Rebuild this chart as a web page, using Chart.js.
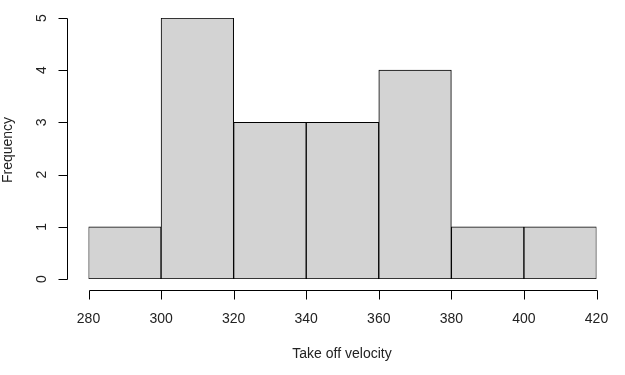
<!DOCTYPE html>
<html>
<head>
<meta charset="utf-8">
<script src="https://cdn.jsdelivr.net/npm/chart.js@4"></script>
<style>
  body { margin: 0; background: #fff; }
  #wrap { width: 625px; height: 375px; }
</style>
</head>
<body>
<div id="wrap"><canvas id="canvasHist" width="625" height="375"></canvas></div>
<script>
// histogram bins (breaks) and counts
let breaks = [280, 300, 320, 340, 360, 380, 400, 420];
let counts = [1, 5, 3, 3, 4, 1, 1];
let xTicks = [280, 300, 320, 340, 360, 380, 400, 420];
let yTicks = [0, 1, 2, 3, 4, 5];
let xTitle = 'Take off velocity';
let yTitle = 'Frequency';

let barData = counts.map(function (c, i) {
    return { x: (breaks[i] + breaks[i + 1]) / 2, y: c };
});

// R style axes, detached from the plot area
let rAxes = {
    id: 'rAxes',
    afterDraw: function (chart) {
        let ctx = chart.ctx;
        let xs = chart.scales.x;
        let ys = chart.scales.y;
        ctx.save();
        ctx.strokeStyle = '#000';
        ctx.fillStyle = '#222';
        ctx.lineWidth = 1;
        ctx.font = '14px "Liberation Sans", Arial, sans-serif';

        // y axis
        let ax = 67.5;
        ctx.beginPath();
        ctx.moveTo(ax, Math.round(ys.getPixelForValue(yTicks[0])) + 0.5);
        ctx.lineTo(ax, Math.round(ys.getPixelForValue(yTicks[yTicks.length - 1])) + 0.5);
        yTicks.forEach(function (t) {
            let py = Math.round(ys.getPixelForValue(t)) + 0.5;
            ctx.moveTo(ax, py);
            ctx.lineTo(ax - 9, py);
        });
        ctx.stroke();
        ctx.textAlign = 'center';
        ctx.textBaseline = 'middle';
        yTicks.forEach(function (t) {
            let py = ys.getPixelForValue(t);
            ctx.save();
            ctx.translate(42, py);
            ctx.rotate(-Math.PI / 2);
            ctx.fillText(String(t), 0, 0);
            ctx.restore();
        });

        // x axis
        let ay = 290.5;
        ctx.beginPath();
        ctx.moveTo(Math.round(xs.getPixelForValue(xTicks[0])) + 0.5, ay);
        ctx.lineTo(Math.round(xs.getPixelForValue(xTicks[xTicks.length - 1])) + 0.5, ay);
        xTicks.forEach(function (t) {
            let px = Math.round(xs.getPixelForValue(t)) + 0.5;
            ctx.moveTo(px, ay);
            ctx.lineTo(px, ay + 9);
        });
        ctx.stroke();
        xTicks.forEach(function (t) {
            ctx.fillText(String(t), xs.getPixelForValue(t), 319);
        });

        // titles
        ctx.fillText(xTitle, 342, 354);
        ctx.save();
        ctx.translate(8, 150);
        ctx.rotate(-Math.PI / 2);
        ctx.fillText(yTitle, 0, 0);
        ctx.restore();
        ctx.restore();
    }
};

let grafHist = document.getElementById('canvasHist').getContext('2d');
let chartHist = new Chart(grafHist, {
    type: 'bar',
    data: {
        datasets: [
            {
                label: yTitle,
                data: barData,
                backgroundColor: '#d3d3d3',
                borderColor: '#000',
                borderWidth: 1,
                barPercentage: 1,
                categoryPercentage: 1,
                borderSkipped: false
            }
        ]
    },
    options: {
        responsive: false,
        animation: false,
        layout: { padding: { left: 88.5, right: 28.5, top: 18, bottom: 96 } },
        plugins: { legend: { display: false }, tooltip: { enabled: false } },
        scales: {
            x: { type: 'linear', min: breaks[0], max: breaks[breaks.length - 1], display: false, offset: false },
            y: { min: 0, max: 5, display: false }
        }
    },
    plugins: [rAxes]
});
</script>
</body>
</html>
